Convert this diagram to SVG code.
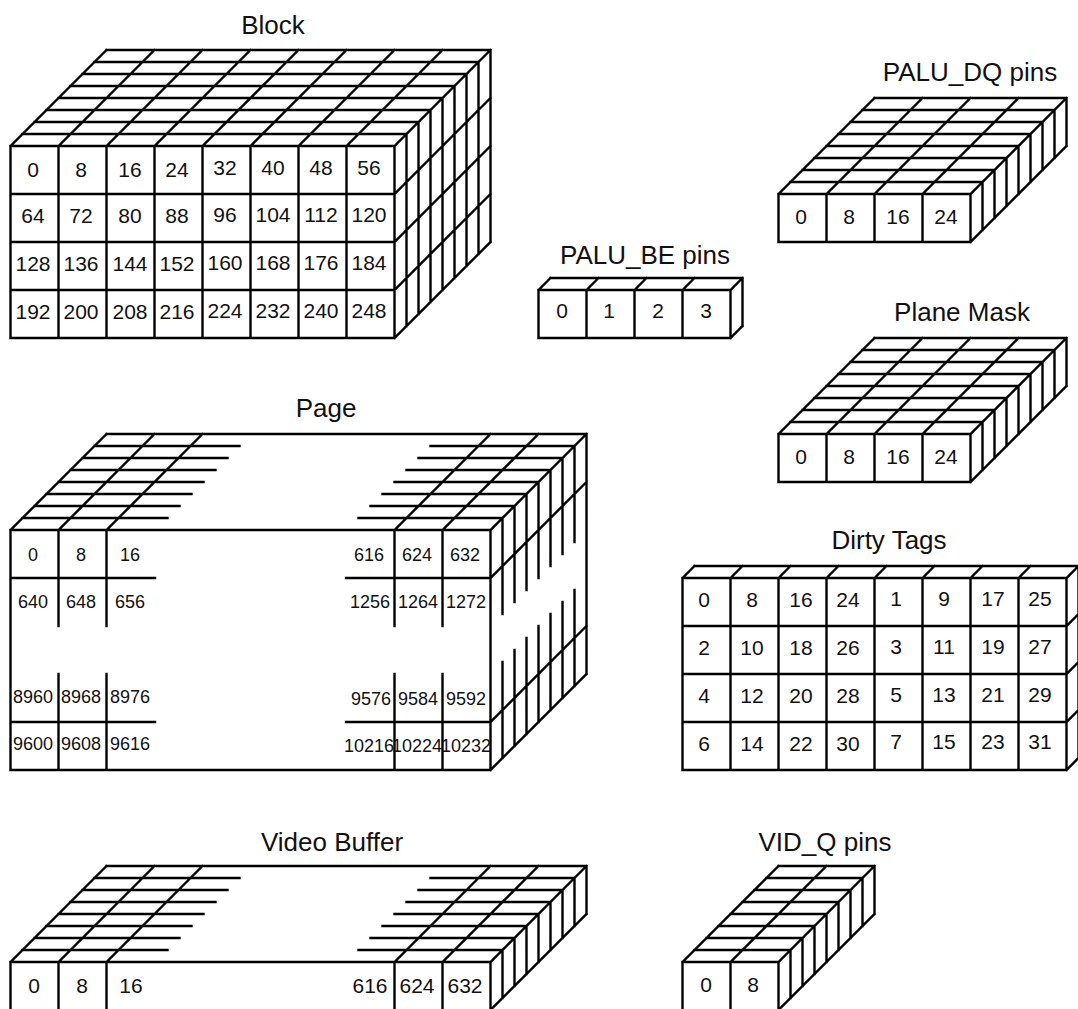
<svg xmlns="http://www.w3.org/2000/svg" width="1078" height="1009" viewBox="0 0 1078 1009">
<style>
text{font-family:"Liberation Sans",Arial,sans-serif;fill:#111;text-anchor:middle}
.t{font-size:26px}
.n{font-size:21px}
.s{font-size:18px}
.g{fill:none;stroke:#000;stroke-width:2.4;stroke-linecap:square}
</style>
<defs>
<path id="cube4x8" class="g" d="M778.5 194h192m-192 48h192M778.5 194v48m48-48v48m48-48v48m48-48v48m48-48v48M790.5 182h192m-180-12h192m-180-12h192m-180-12h192m-180-12h192m-180-12h192m-180-12h192m-180-12h192M778.5 194l96-96m-48 96l96-96m-48 96l96-96m-48 96l96-96m-48 96l96-96M982.5 182v48m12-60v48m12-60v48m12-60v48m12-60v48m12-60v48m12-60v48m12-60v48M970.5 242l96-96"/>
</defs>
<rect width="1078" height="1009" fill="#fff"/>
<g id="block">
<text class="t" x="273" y="34">Block</text>
<path class="g" d="M10.5 146h384m-384 48h384m-384 48h384m-384 48h384m-384 48h384M10.5 146v192m48-192v192m48-192v192m48-192v192m48-192v192m48-192v192m48-192v192m48-192v192m48-192v192M22.5 134h384m-372-12h384m-372-12h384m-372-12h384m-372-12h384m-372-12h384m-372-12h384m-372-12h384M10.5 146l96-96m-48 96l96-96m-48 96l96-96m-48 96l96-96m-48 96l96-96m-48 96l96-96m-48 96l96-96m-48 96l96-96m-48 96l96-96M406.5 134v192m12-204v192m12-204v192m12-204v192m12-204v192m12-204v192m12-204v192m12-204v192M394.5 194l96-96m-96 144l96-96m-96 144l96-96m-96 144l96-96"/>
<text class="n" x="33" y="177">0</text><text class="n" x="81" y="177">8</text><text class="n" x="130" y="177">16</text><text class="n" x="177" y="177">24</text><text class="n" x="225" y="175">32</text><text class="n" x="273" y="175">40</text><text class="n" x="321" y="175">48</text><text class="n" x="369" y="175">56</text>
<text class="n" x="33" y="223">64</text><text class="n" x="81" y="223">72</text><text class="n" x="130" y="223">80</text><text class="n" x="177" y="223">88</text><text class="n" x="225" y="222">96</text><text class="n" x="273" y="222">104</text><text class="n" x="321" y="222">112</text><text class="n" x="369" y="222">120</text>
<text class="n" x="33" y="271">128</text><text class="n" x="81" y="271">136</text><text class="n" x="130" y="271">144</text><text class="n" x="177" y="271">152</text><text class="n" x="225" y="270">160</text><text class="n" x="273" y="270">168</text><text class="n" x="321" y="270">176</text><text class="n" x="369" y="270">184</text>
<text class="n" x="33" y="319">192</text><text class="n" x="81" y="319">200</text><text class="n" x="130" y="319">208</text><text class="n" x="177" y="319">216</text><text class="n" x="225" y="318">224</text><text class="n" x="273" y="318">232</text><text class="n" x="321" y="318">240</text><text class="n" x="369" y="318">248</text>
</g>
<g id="palu-dq">
<text class="t" x="970" y="81">PALU_DQ pins</text>
<use href="#cube4x8"/>
<text class="n" x="801" y="224">0</text><text class="n" x="849" y="224">8</text><text class="n" x="898" y="224">16</text><text class="n" x="946" y="224">24</text>
</g>
<g id="palu-be">
<text class="t" x="645" y="264">PALU_BE pins</text>
<path class="g" d="M538.5 290h192m-192 48h192M538.5 290v48m48-48v48m48-48v48m48-48v48m48-48v48M550.5 278h192M538.5 290l12-12m36 12l12-12m36 12l12-12m36 12l12-12m36 12l12-12M742.5 278v48M730.5 338l12-12"/>
<text class="n" x="562" y="318">0</text><text class="n" x="609" y="318">1</text><text class="n" x="658" y="318">2</text><text class="n" x="706" y="318">3</text>
</g>
<g id="plane-mask">
<text class="t" x="962" y="321">Plane Mask</text>
<use href="#cube4x8" transform="translate(0 240)"/>
<text class="n" x="801" y="464">0</text><text class="n" x="849" y="464">8</text><text class="n" x="898" y="464">16</text><text class="n" x="946" y="464">24</text>
</g>
<g id="page">
<text class="t" x="326" y="417">Page</text>
<path class="g" d="M10.5 530h480M10.5 770h480M10.5 530v240M490.5 530v240M10.5 578h144.500M346 578h144.500M10.5 722h144.500M346 722h144.500M58.500 530v96M106.500 530v96M394.500 530v96M442.500 530v96M58.500 674v96M106.500 674v96M394.500 674v96M442.500 674v96M106.500 434h480M22.500 518h145m-133-12h145m-133-12h145m-133-12h145m-133-12h145m-133-12h145m-133-12h145M358.500 518h144m-132-12h144m-132-12h144m-132-12h144m-132-12h144m-132-12h144m-132-12h144M10.500 530l96-96m-48 96l96-96m-48 96l96-96M394.500 530l96-96m-48 96l96-96m-48 96l96-96M502.500 518v96m12-108v96m12-108v96m12-108v96m12-108v96m12-108v96m12-108v96M502.500 662v96m12-108v96m12-108v96m12-108v96m12-108v96m12-108v96m12-108v96M586.500 434v240M490.500 578l96-96M490.500 722l96-96M490.500 770l96-96"/>
<text class="s" x="33" y="561">0</text><text class="s" x="81" y="561">8</text><text class="s" x="130" y="561">16</text>
<text class="s" x="33" y="608">640</text><text class="s" x="81" y="608">648</text><text class="s" x="130" y="608">656</text>
<text class="s" x="33" y="703">8960</text><text class="s" x="81" y="703">8968</text><text class="s" x="130" y="703">8976</text>
<text class="s" x="33" y="750">9600</text><text class="s" x="81" y="750">9608</text><text class="s" x="130" y="750">9616</text>
<text class="s" x="369" y="561">616</text><text class="s" x="417" y="561">624</text><text class="s" x="465" y="561">632</text>
<text class="s" x="370" y="608">1256</text><text class="s" x="418" y="608">1264</text><text class="s" x="466" y="608">1272</text>
<text class="s" x="371" y="705">9576</text><text class="s" x="418" y="705">9584</text><text class="s" x="466" y="705">9592</text>
<text class="s" x="369" y="752">10216</text><text class="s" x="417" y="752">10224</text><text class="s" x="466" y="752">10232</text>
</g>
<g id="dirty-tags">
<text class="t" x="889" y="549">Dirty Tags</text>
<path class="g" d="M682.5 578h384m-384 48h384m-384 48h384m-384 48h384m-384 48h384M682.5 578v192m48-192v192m48-192v192m48-192v192m48-192v192m48-192v192m48-192v192m48-192v192m48-192v192M694.5 566h384M682.5 578l12-12m36 12l12-12m36 12l12-12m36 12l12-12m36 12l12-12m36 12l12-12m36 12l12-12m36 12l12-12m36 12l12-12M1078.5 566v192M1066.5 626l12-12m-12 60l12-12m-12 60l12-12m-12 60l12-12"/>
<text class="n" x="704" y="607">0</text><text class="n" x="752" y="607">8</text><text class="n" x="801" y="607">16</text><text class="n" x="848" y="607">24</text><text class="n" x="896" y="606">1</text><text class="n" x="944" y="606">9</text><text class="n" x="993" y="606">17</text><text class="n" x="1040" y="606">25</text>
<text class="n" x="704" y="655">2</text><text class="n" x="752" y="655">10</text><text class="n" x="801" y="655">18</text><text class="n" x="848" y="655">26</text><text class="n" x="896" y="654">3</text><text class="n" x="944" y="654">11</text><text class="n" x="993" y="654">19</text><text class="n" x="1040" y="654">27</text>
<text class="n" x="704" y="703">4</text><text class="n" x="752" y="703">12</text><text class="n" x="801" y="703">20</text><text class="n" x="848" y="703">28</text><text class="n" x="896" y="702">5</text><text class="n" x="944" y="702">13</text><text class="n" x="993" y="702">21</text><text class="n" x="1040" y="702">29</text>
<text class="n" x="704" y="751">6</text><text class="n" x="752" y="751">14</text><text class="n" x="801" y="751">22</text><text class="n" x="848" y="751">30</text><text class="n" x="896" y="749">7</text><text class="n" x="944" y="749">15</text><text class="n" x="993" y="749">23</text><text class="n" x="1040" y="749">31</text>
</g>
<g id="video-buffer">
<text class="t" x="332" y="851">Video Buffer</text>
<path class="g" d="M10.5 962h480M10.5 962v48M58.500 962v48M106.500 962v48M394.500 962v48M442.500 962v48M490.500 962v48M106.500 866h480M22.500 950h145m-133-12h145m-133-12h145m-133-12h145m-133-12h145m-133-12h145m-133-12h145M358.500 950h144m-132-12h144m-132-12h144m-132-12h144m-132-12h144m-132-12h144m-132-12h144M10.500 962l96-96m-48 96l96-96m-48 96l96-96M394.500 962l96-96m-48 96l96-96m-48 96l96-96M502.500 950v48m12-60v48m12-60v48m12-60v48m12-60v48m12-60v48m12-60v48m12-60v48M490.500 1010l96-96"/>
<text class="n" x="34" y="993">0</text><text class="n" x="82" y="993">8</text><text class="n" x="131" y="993">16</text><text class="n" x="370" y="993">616</text><text class="n" x="417" y="993">624</text><text class="n" x="465" y="993">632</text>
</g>
<g id="vid-q">
<text class="t" x="825" y="851">VID_Q pins</text>
<path class="g" d="M682.5 962h96M682.5 962v48m48-48v48m48-48v48M694.5 950h96m-84-12h96m-84-12h96m-84-12h96m-84-12h96m-84-12h96m-84-12h96m-84-12h96M682.5 962l96-96m-48 96l96-96m-48 96l96-96M790.5 950v48m12-60v48m12-60v48m12-60v48m12-60v48m12-60v48m12-60v48m12-60v48M778.500 1010l96-96"/>
<text class="n" x="706" y="992">0</text><text class="n" x="753" y="992">8</text>
</g>
</svg>
